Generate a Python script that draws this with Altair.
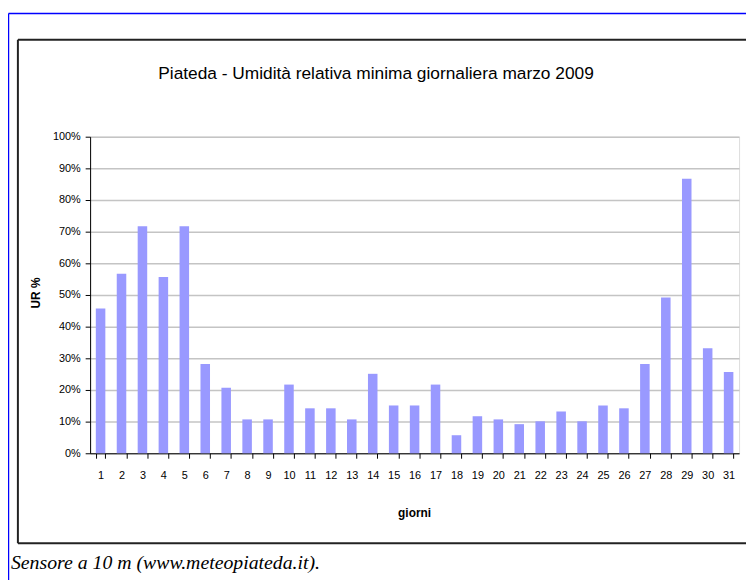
import altair as alt
import pandas as pd

days = list(range(1, 32))
ur = [45.7, 56.7, 71.7, 55.7, 71.7, 28.2, 20.7, 10.7, 10.7, 21.7,
      14.2, 14.2, 10.7, 25.1, 15.1, 15.1, 21.7, 5.7, 11.7, 10.7,
      9.2, 10.1, 13.2, 10.1, 15.1, 14.2, 28.2, 49.2, 86.7, 33.2, 25.7]
y_ticks = [0, 0.1, 0.2, 0.3, 0.4, 0.5, 0.6, 0.7, 0.8, 0.9, 1.0]

title_text = "Piateda - Umidità relativa minima giornaliera marzo 2009"
y_title = "UR %"
x_title = "giorni"
caption_text = "Sensore a 10 m (www.meteopiateda.it)."

SANS = "Liberation Sans, Arial, sans-serif"
SERIF = "Liberation Serif, Times New Roman, serif"

W, H = 656, 320

df = pd.DataFrame({"giorno": days, "ur": [v / 100 for v in ur]})
one = alt.Data(values=[{"k": 1}])

bars = alt.Chart(df).mark_bar(color="#9999FF").encode(
    x=alt.X(
        "giorno:O",
        scale=alt.Scale(paddingInner=0.545, paddingOuter=0.2725),
        axis=alt.Axis(
            title=None, labelAngle=0, tickBand="extent", grid=False,
            domainColor="black", tickColor="black", tickSize=5,
            labelFont=SANS, labelFontSize=11, labelColor="black",
            labelPadding=11,
        ),
    ),
    y=alt.Y(
        "ur:Q",
        scale=alt.Scale(domain=[0, 1], nice=False),
        axis=alt.Axis(
            title=None, format=".0%", values=y_ticks, grid=True,
            gridColor="#c4c4c4", gridWidth=1.5,
            domainColor="black", tickColor="black", tickSize=5,
            labelFont=SANS, labelFontSize=11, labelColor="black",
            labelPadding=5,
        ),
    ),
)

box_top = alt.Chart(one).mark_rule(color="#222222", strokeWidth=2).encode(
    x=alt.value(-73), x2=alt.value(720), y=alt.value(-98)
)
box_left = alt.Chart(one).mark_rule(color="#222222", strokeWidth=2).encode(
    x=alt.value(-73), y=alt.value(-98), y2=alt.value(411)
)
box_bottom = alt.Chart(one).mark_rule(color="#222222", strokeWidth=2).encode(
    x=alt.value(-73), x2=alt.value(720), y=alt.value(411)
)
blue_top = alt.Chart(one).mark_rule(color="#0000FF", strokeWidth=1.5).encode(
    x=alt.value(-82.5), x2=alt.value(720), y=alt.value(-124.5)
)
blue_left = alt.Chart(one).mark_rule(color="#0000FF", strokeWidth=1.5).encode(
    x=alt.value(-82.5), y=alt.value(-124.5), y2=alt.value(460)
)
title = alt.Chart(one).mark_text(
    text=title_text, font=SANS, fontSize=17.5, color="black",
    align="center", baseline="alphabetic"
).encode(x=alt.value(289), y=alt.value(-58))
ytitle = alt.Chart(one).mark_text(
    text=y_title, font=SANS, fontSize=12, fontWeight="bold", color="black",
    align="center", baseline="middle", angle=270
).encode(x=alt.value(-55), y=alt.value(158))
xtitle = alt.Chart(one).mark_text(
    text=x_title, font=SANS, fontSize=12, fontWeight="bold", color="black",
    align="center", baseline="middle"
).encode(x=alt.value(328), y=alt.value(380))
caption = alt.Chart(one).mark_text(
    text=caption_text, font=SERIF, fontSize=20, fontStyle="italic", color="black",
    align="left", baseline="alphabetic"
).encode(x=alt.value(-80), y=alt.value(437))

chart = alt.layer(
    box_top, box_left, box_bottom, bars, blue_top, blue_left,
    title, ytitle, xtitle, caption
).properties(
    width=W, height=H,
    autosize=alt.AutoSizeParams(type="none"),
    padding={"left": 83, "top": 127, "right": 7, "bottom": 125},
).configure_view(stroke="#808080", strokeWidth=1.2).configure(background="white")

chart.save("out.html", embed_options={"renderer": "svg", "actions": False})
